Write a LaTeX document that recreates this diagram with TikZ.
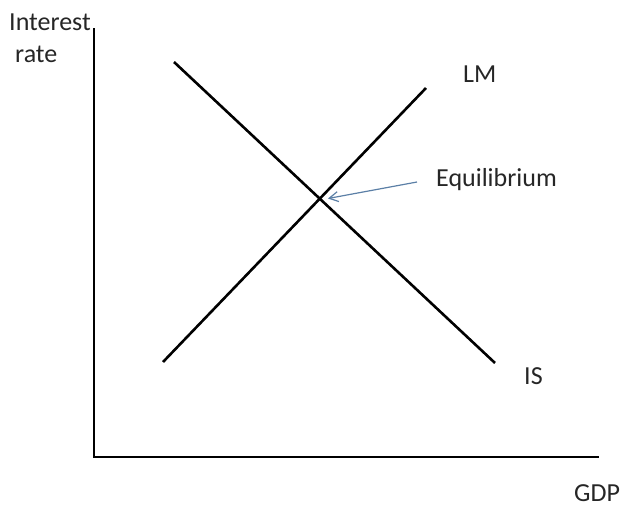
\documentclass[tikz,border=0pt]{standalone}
\usepackage{fontspec}
\setmainfont{Carlito}
\usetikzlibrary{arrows.meta}
\definecolor{arrowblue}{HTML}{5B7FA6}
\tikzset{
  curve/.style={line width=2.6pt, black},
  axis/.style={line width=2.8pt, black, line cap=rect},
  lbl/.style={anchor=base west, inner sep=0pt, font=\fontsize{26}{32}\selectfont, text=black!85},
  pointer/.style={arrowblue, line width=1.2pt, -{Straight Barb[length=9pt,width=10pt,line width=1.2pt]}}
}
\begin{document}
\begin{tikzpicture}[x=1pt,y=-1pt]
\useasboundingbox (0,0) rectangle (623,506);
% axes
\coordinate (top) at (94,29);
\coordinate (origin) at (94,457);
\coordinate (right) at (598,457);
\draw[axis] (top) -- (origin) -- (right);
% curves
\coordinate (IS1) at (174,62);
\coordinate (IS2) at (495,363);
\coordinate (LM1) at (163,362);
\coordinate (LM2) at (426,88);
\draw[curve] (IS1) -- (IS2);
\draw[curve] (LM1) -- (LM2);
% labels
\node[lbl] (int) at (9,30) {Interest};
\node[lbl] (rate) at (15,62) {rate};
\node[lbl] (lm) at (463,82) {LM};
\node[lbl] (eq) at (436,186) {Equilibrium};
\node[lbl] (is) at (524,384) {IS};
\node[lbl] (gdp) at (574,501) {GDP};
% pointer
\coordinate (pstart) at (417,182);
\coordinate (pend) at (328,198.5);
\draw[pointer] (pstart) -- (pend);
\end{tikzpicture}
\end{document}
